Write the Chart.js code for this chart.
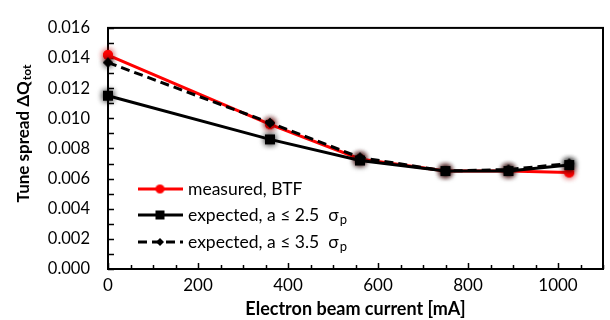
<!DOCTYPE html>
<html>
<head>
<meta charset="utf-8">
<script src="https://cdn.jsdelivr.net/npm/chart.js@4.4.1/dist/chart.umd.min.js"></script>
<style>body{margin:0;background:#fff}</style>
</head>
<body>
<canvas id="chart" width="610" height="320"></canvas>
<script>
// values
var current = [0, 360, 560, 750, 890, 1025];
var measured = [0.0142, 0.0096, 0.0073, 0.0065, 0.0065, 0.0064];
var expected25 = [0.0115, 0.0086, 0.0072, 0.0065, 0.0065, 0.0069];
var expected35 = [0.0137, 0.0097, 0.0074, 0.0065, 0.0066, 0.0070];
var seriesNames = ["measured, BTF", "expected, a \u2264 2.5  \u03c3", "expected, a \u2264 3.5  \u03c3"];
var seriesSub = ["", "p", "p"];

var FONT = "Lato, 'Open Sans', sans-serif";

function marker(shape, color, size, glow) {
  var s = size + 16;
  var c = document.createElement("canvas");
  c.width = s; c.height = s;
  var g = c.getContext("2d");
  var m = s / 2, r = size / 2;
  if (glow) { g.shadowColor = glow; g.shadowBlur = 6; }
  g.fillStyle = color;
  g.beginPath();
  if (shape == "circle") g.arc(m, m, r, 0, Math.PI * 2);
  else if (shape == "square") g.rect(m - r, m - r, size, size);
  else { g.moveTo(m, m - r); g.lineTo(m + r, m); g.lineTo(m, m + r); g.lineTo(m - r, m); g.closePath(); }
  g.fill();
  if (glow) g.fill();
  return c;
}

function toXY(ys) {
  return current.map(function(x, i) { return {x: x, y: ys[i]}; });
}

var styles = [
  {color: "#ff0000", dash: [], pt: marker("circle", "#ff0000", 10, "rgba(200,0,0,0.6)"), leg: marker("circle", "#ff0000", 9)},
  {color: "#000000", dash: [], pt: marker("square", "#000000", 10, "rgba(0,0,0,0.6)"), leg: marker("square", "#000000", 9)},
  {color: "#000000", dash: [9, 5], pt: marker("diamond", "#000000", 10, "rgba(0,0,0,0.6)"), leg: marker("diamond", "#000000", 8)}
];
var allData = [measured, expected25, expected35];

var datasets = allData.map(function(d, i) {
  return {
    label: seriesNames[i],
    data: toXY(d),
    showLine: true,
    borderColor: styles[i].color,
    backgroundColor: styles[i].color,
    borderWidth: 3,
    borderDash: styles[i].dash,
    pointStyle: styles[i].pt,
    tension: 0,
    clip: false,
    order: 3 - i
  };
});

var decor = {
  id: "decor",
  beforeDatasetsDraw: function(chart) {
    var ctx = chart.ctx, a = chart.chartArea;
    var xs = chart.scales.x, ys = chart.scales.y;
    ctx.save();
    ctx.strokeStyle = "#000";
    ctx.lineWidth = 2;
    ctx.strokeRect(a.left, a.top, a.right - a.left, a.bottom - a.top);
    ctx.lineWidth = 1.5;
    ctx.beginPath();
    xs.ticks.forEach(function(t) {
      var p = Math.round(xs.getPixelForValue(t.value)) + 0.5;
      var len = (Math.round(t.value) % 200 === 0) ? 6 : 4;
      ctx.moveTo(p, a.bottom); ctx.lineTo(p, a.bottom - len);
    });
    ys.ticks.forEach(function(t) {
      var p = Math.round(ys.getPixelForValue(t.value)) + 0.5;
      ctx.moveTo(a.left, p); ctx.lineTo(a.left + 6, p);
    });
    ctx.stroke();
    ctx.restore();
  },
  afterDraw: function(chart) {
    var ctx = chart.ctx;
    ctx.save();
    // y axis title with subscript
    ctx.fillStyle = "#000";
    ctx.translate(24, 134);
    ctx.rotate(-Math.PI / 2);
    ctx.textBaseline = "middle";
    ctx.textAlign = "left";
    var main = "Tune spread \u0394Q";
    ctx.font = "bold 17px " + FONT;
    var w1 = ctx.measureText(main).width;
    ctx.font = "bold 12px " + FONT;
    var w2 = ctx.measureText("tot").width;
    var x0 = -(w1 + w2) / 2;
    ctx.font = "bold 17px " + FONT;
    ctx.fillText(main, x0, 0);
    ctx.font = "bold 12px " + FONT;
    ctx.fillText("tot", x0 + w1 + 1, 3);
    ctx.restore();

    // legend
    ctx.save();
    var rowY = [189, 215, 242];
    styles.forEach(function(st, i) {
      var y = rowY[i];
      ctx.strokeStyle = st.color;
      ctx.lineWidth = 3;
      ctx.setLineDash(st.dash);
      ctx.beginPath();
      ctx.moveTo(138, y); ctx.lineTo(183, y);
      ctx.stroke();
      ctx.setLineDash([]);
      ctx.drawImage(st.leg, 160 - st.leg.width / 2, y - st.leg.height / 2);
      ctx.fillStyle = "#000";
      ctx.textBaseline = "middle";
      ctx.font = "17.5px " + FONT;
      ctx.fillText(seriesNames[i], 188, y);
      if (seriesSub[i]) {
        var w = ctx.measureText(seriesNames[i]).width;
        ctx.font = "13px " + FONT;
        ctx.fillText(seriesSub[i], 188 + w + 1, y + 5);
      }
    });
    ctx.restore();
  }
};

new Chart(document.getElementById("chart"), {
  type: "scatter",
  data: {datasets: datasets},
  options: {
    responsive: false,
    devicePixelRatio: 1,
    animation: false,
    layout: {padding: {top: 16, right: 5, left: 0, bottom: 0}},
    plugins: {legend: {display: false}, tooltip: {enabled: false}},
    scales: {
      x: {
        type: "linear",
        min: 0, max: 1100,
        grid: {display: false, drawTicks: false, tickLength: 0},
        border: {display: false},
        afterFit: function(s) { s.height = 51; },
        ticks: {
          stepSize: 50,
          autoSkip: false,
          maxRotation: 0,
          padding: 6,
          color: "#000",
          font: {family: FONT, size: 17},
          callback: function(v) { return Math.round(v) % 200 === 0 && v <= 1000 ? String(v) : ""; }
        },
        title: {
          display: true,
          text: "Electron beam current [mA]",
          color: "#000",
          font: {family: FONT, size: 18, weight: "bold"},
          padding: {top: 0, bottom: 0}
        }
      },
      y: {
        min: 0, max: 0.016,
        grid: {display: false, drawTicks: false, tickLength: 0},
        border: {display: false},
        afterFit: function(s) { s.width = 108; },
        ticks: {
          stepSize: 0.001,
          autoSkip: false,
          padding: 18,
          color: "#000",
          font: {family: FONT, size: 16.5},
          callback: function(v) { return Math.round(v * 1000) % 2 === 0 ? v.toFixed(3) : ""; }
        }
      }
    }
  },
  plugins: [decor]
});
</script>
</body>
</html>
